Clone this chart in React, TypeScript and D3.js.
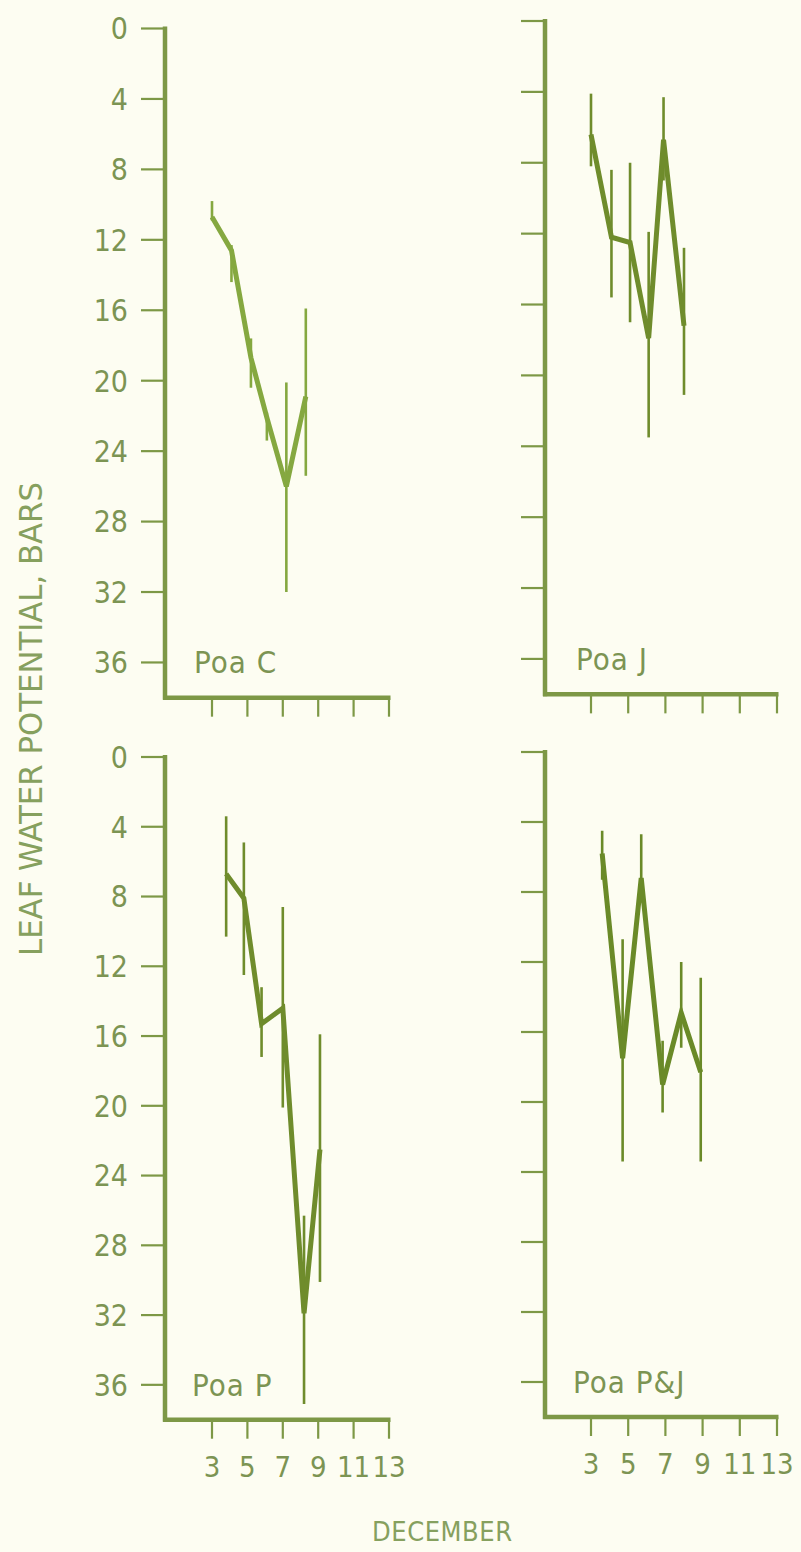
import React from "react";
import * as d3 from "d3";

// Leaf water potential (bars) through December, four Poa treatments.
const yTicks = [0, 4, 8, 12, 16, 20, 24, 28, 32, 36];
const xTicks = [3, 5, 7, 9, 11, 13];

const poaCDays = [3.0, 4.1, 5.2, 6.1, 7.2, 8.3];
const poaCMean = [10.7, 12.6, 18.7, 22.1, 26.0, 20.9];
const poaCLow = [9.8, 12.3, 17.6, 21.8, 20.1, 15.9];
const poaCHigh = [10.9, 14.4, 20.4, 23.4, 32.0, 25.4];

const poaJDays = [3.0, 4.1, 5.1, 6.1, 6.9, 8.0];
const poaJMean = [6.4, 12.2, 12.5, 17.9, 6.7, 17.2];
const poaJLow = [4.1, 8.4, 8.0, 11.9, 4.3, 12.8];
const poaJHigh = [8.2, 15.6, 17.0, 23.5, 9.0, 21.1];

const poaPDays = [3.8, 4.8, 5.8, 7.0, 8.2, 9.1];
const poaPMean = [6.7, 8.1, 15.3, 14.4, 31.9, 22.5];
const poaPLow = [3.4, 4.9, 13.2, 8.6, 26.3, 15.9];
const poaPHigh = [10.3, 12.5, 17.2, 20.1, 37.1, 30.1];

const poaPJDays = [3.6, 4.7, 5.7, 6.85, 7.85, 8.9];
const poaPJMean = [5.8, 17.5, 7.2, 19.0, 14.9, 18.3];
const poaPJLow = [4.5, 10.7, 4.7, 16.5, 12.0, 12.9];
const poaPJHigh = [7.3, 23.4, 8.5, 20.6, 16.9, 23.4];

const BG = "#fdfdf2";
const AXIS = "#7d9846";
const TEXT = "#7c9453";
const FONT = "'DejaVu Sans Condensed', 'Liberation Sans Narrow', sans-serif";

type PanelProps = {
  name: string;
  days: number[];
  mean: number[];
  low: number[];
  high: number[];
  axisX: number;
  x3: number;
  pxPerDay: number;
  y0: number;
  pxPerUnit: number;
  yLabels: boolean;
  xLabels: boolean;
  lineColor: string;
  labelX: number;
};

function Panel(p: PanelProps) {
  const dayAtAxis = 3 - (p.x3 - p.axisX) / p.pxPerDay;
  const x = d3
    .scaleLinear()
    .domain([dayAtAxis, 13])
    .range([p.axisX, p.x3 + 10 * p.pxPerDay]);
  const y = d3
    .scaleLinear()
    .domain([0, 38])
    .range([p.y0, p.y0 + 38 * p.pxPerUnit]);
  const pts = p.days.map((d, i) => [d, p.mean[i]] as [number, number]);
  const line = d3
    .line<[number, number]>()
    .x((d) => x(d[0]))
    .y((d) => y(d[1]));
  const bottom = y(38);
  return (
    <g>
      {/* error bars */}
      {p.days.map((d, i) => (
        <line
          key={"e" + i}
          x1={x(d)}
          x2={x(d)}
          y1={y(p.low[i])}
          y2={y(p.high[i])}
          stroke={p.lineColor}
          strokeWidth={2.6}
        />
      ))}
      <path
        d={line(pts) || ""}
        fill="none"
        stroke={p.lineColor}
        strokeWidth={5}
        strokeLinejoin="miter"
      />
      {/* y axis */}
      <line x1={p.axisX} x2={p.axisX} y1={y(0) - 2} y2={bottom + 2} stroke={AXIS} strokeWidth={4.5} />
      {yTicks.map((t) => (
        <g key={"y" + t}>
          <line x1={p.axisX - 24} x2={p.axisX} y1={y(t)} y2={y(t)} stroke={AXIS} strokeWidth={2.2} />
          {p.yLabels && (
            <text
              x={p.axisX - 37}
              y={y(t)}
              dy="0.36em"
              textAnchor="end"
              fontFamily={FONT}
              fontSize={30}
              fill={TEXT}
            >
              {t}
            </text>
          )}
        </g>
      ))}
      {/* x axis */}
      <line x1={p.axisX - 2} x2={x(13) + 1.5} y1={bottom} y2={bottom} stroke={AXIS} strokeWidth={4.5} />
      {xTicks.map((t) => (
        <g key={"x" + t}>
          <line x1={x(t)} x2={x(t)} y1={bottom} y2={bottom + 19} stroke={AXIS} strokeWidth={2.2} />
          {p.xLabels && (
            <text
              x={x(t)}
              y={bottom + 57}
              textAnchor="middle"
              fontFamily={FONT}
              fontSize={29}
              fill={TEXT}
            >
              {t}
            </text>
          )}
        </g>
      ))}
      <text
        x={p.labelX}
        y={y(36) + 11}
        fontFamily={FONT}
        fontSize={31}
        letterSpacing={1}
        fill={TEXT}
      >
        {p.name}
      </text>
    </g>
  );
}

export default function App() {
  return (
    <svg
      width={801}
      height={1552}
      style={{ position: "absolute", left: 0, top: 0, background: BG }}
    >
      <rect width={801} height={1552} fill={BG} />
      <Panel
        name="Poa C"
        days={poaCDays}
        mean={poaCMean}
        low={poaCLow}
        high={poaCHigh}
        axisX={165}
        x3={212}
        pxPerDay={17.7}
        y0={28.5}
        pxPerUnit={17.61}
        yLabels
        xLabels={false}
        lineColor="#85a840"
        labelX={194}
      />
      <Panel
        name="Poa J"
        days={poaJDays}
        mean={poaJMean}
        low={poaJLow}
        high={poaJHigh}
        axisX={545}
        x3={591}
        pxPerDay={18.6}
        y0={21}
        pxPerUnit={17.72}
        yLabels={false}
        xLabels={false}
        lineColor="#6f8c2c"
        labelX={576}
      />
      <Panel
        name="Poa P"
        days={poaPDays}
        mean={poaPMean}
        low={poaPLow}
        high={poaPHigh}
        axisX={165}
        x3={212}
        pxPerDay={17.7}
        y0={757}
        pxPerUnit={17.44}
        yLabels
        xLabels
        lineColor="#6f8c2c"
        labelX={192}
      />
      <Panel
        name="Poa P&J"
        days={poaPJDays}
        mean={poaPJMean}
        low={poaPJLow}
        high={poaPJHigh}
        axisX={545}
        x3={591}
        pxPerDay={18.6}
        y0={752}
        pxPerUnit={17.5}
        yLabels={false}
        xLabels
        lineColor="#6a8a28"
        labelX={573}
      />
      <text
        transform="translate(42,719) rotate(-90)"
        textAnchor="middle"
        fontFamily={FONT}
        fontSize={32}
        fill="#86a05e"
        textLength={474}
        lengthAdjust="spacingAndGlyphs"
      >
        LEAF WATER POTENTIAL, BARS
      </text>
      <text
        x={442}
        y={1541}
        textAnchor="middle"
        fontFamily={FONT}
        fontSize={27}
        fill="#86a05e"
        textLength={140}
        lengthAdjust="spacing"
      >
        DECEMBER
      </text>
    </svg>
  );
}
